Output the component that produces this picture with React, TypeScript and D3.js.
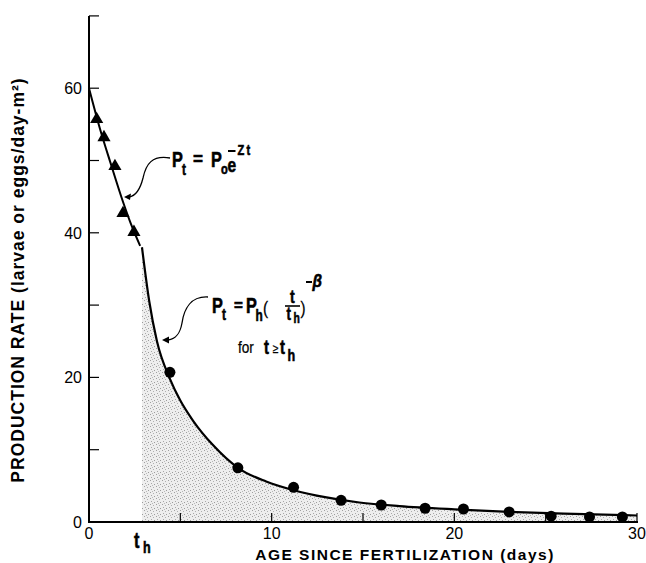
import React from 'react';
import * as d3 from 'd3';

const W = 646;
const H = 563;

// axis ticks
const xTickLabels = [0, 10, 20, 30];
const xTickMarks = [5, 10, 15, 20, 25, 30];
const yTickLabels = [0, 20, 40, 60];
const yTickMarks = [10, 20, 30, 40, 50, 60, 70];

// early-phase observations (triangles)
const triT = [0.42, 0.82, 1.42, 1.86, 2.46];
const triP = [55.7, 53.2, 49.2, 42.7, 40.1];

// later-phase observations (circles)
const dotT = [4.43, 8.15, 11.2, 13.8, 16.0, 18.4, 20.5, 23.0, 25.3, 27.4, 29.2];
const dotP = [20.7, 7.5, 4.8, 3.0, 2.35, 1.9, 1.8, 1.4, 0.8, 0.7, 0.7];

// exponential fit line
const expT = [0, 0.6, 1.2, 1.86, 2.3, 2.8];
const expP = [60, 54.4, 49.5, 44.3, 41.2, 38.2];

// power-law fit curve
const powT = [2.9, 3.3, 3.72, 4.43, 5.0, 5.7, 6.8, 8.15, 9.7, 11.2, 13.0, 14.8, 17, 20, 23, 26, 30];
const powP = [38, 30.5, 25, 19.8, 16.8, 14.0, 10.6, 7.5, 5.6, 4.4, 3.4, 2.7, 2.2, 1.75, 1.4, 1.15, 0.9];

const COND = "'Liberation Sans Narrow', 'Liberation Sans', Arial, sans-serif";
const SANS = "'Liberation Sans', Arial, Helvetica, sans-serif";

type GProps = {
  x: number;
  y: number;
  size: number;
  sx?: number;
  bold?: boolean;
  italic?: boolean;
  children: React.ReactNode;
};

function G({ x, y, size, sx = 0.74, bold = true, italic = false, children }: GProps) {
  return (
    <text
      transform={`translate(${x},${y}) scale(${sx},1)`}
      fontFamily={COND}
      fontSize={size}
      fontWeight={bold ? 'bold' : 'normal'}
      fontStyle={italic ? 'italic' : 'normal'}
      fill="#000"
      stroke="#000"
      strokeWidth={bold ? 0.6 : 0.25}
    >
      {children}
    </text>
  );
}

export default function App() {
  const x = d3.scaleLinear().domain([0, 30]).range([89, 637]);
  const y = d3.scaleLinear().domain([0, 70]).range([522, 15.9]);

  const expPts = expT.map((t, i) => [t, expP[i]] as [number, number]);
  const powPts = powT.map((t, i) => [t, powP[i]] as [number, number]);

  const line = d3
    .line<[number, number]>()
    .x((d) => x(d[0]))
    .y((d) => y(d[1]))
    .curve(d3.curveMonotoneX);
  const area = d3
    .area<[number, number]>()
    .x((d) => x(d[0]))
    .y0(y(0))
    .y1((d) => y(d[1]))
    .curve(d3.curveMonotoneX);

  const tri = d3.symbol(d3.symbolTriangle, 75)();

  return (
    <svg
      width={W}
      height={H}
      style={{ position: 'absolute', left: 0, top: 0, background: '#fff' }}
    >
      <defs>
        <pattern id="stip" width="6" height="6" patternUnits="userSpaceOnUse">
          <rect width="6" height="6" fill="#eeeeee" />
          <rect x="0" y="0" width="1" height="1" fill="#a0a0a0" />
          <rect x="3" y="1" width="1" height="1" fill="#b0b0b0" />
          <rect x="1" y="3" width="1" height="1" fill="#a8a8a8" />
          <rect x="4" y="4" width="1" height="1" fill="#9c9c9c" />
          <rect x="2" y="5" width="1" height="1" fill="#b8b8b8" />
        </pattern>
      </defs>

      {/* shaded area under the power curve */}
      <path d={area(powPts) || ''} fill="url(#stip)" />

      {/* axes */}
      <line x1={x(0)} x2={x(0)} y1={y(70)} y2={y(0) + 1} stroke="#000" strokeWidth={2} />
      <line x1={x(0) - 1} x2={x(30) + 1} y1={y(0)} y2={y(0)} stroke="#000" strokeWidth={2} />
      {yTickMarks.map((v) => (
        <line key={'yt' + v} x1={x(0)} x2={x(0) + 10} y1={y(v)} y2={y(v)} stroke="#000" strokeWidth={1.2} />
      ))}
      {xTickMarks.map((v) => (
        <line key={'xt' + v} x1={x(v)} x2={x(v)} y1={y(0)} y2={y(0) - 9} stroke="#000" strokeWidth={1.2} />
      ))}
      {yTickLabels.map((v) => (
        <text key={'yl' + v} x={x(0) - 7} y={y(v) + 6} textAnchor="end" fontFamily={SANS} fontSize={16}>
          {v}
        </text>
      ))}
      {xTickLabels.map((v) => (
        <text key={'xl' + v} x={x(v)} y={y(0) + 17} textAnchor="middle" fontFamily={SANS} fontSize={16}>
          {v}
        </text>
      ))}

      {/* axis titles */}
      <text
        x={405}
        y={560}
        textAnchor="middle"
        fontFamily={SANS}
        fontWeight="bold"
        fontSize={15.5}
        letterSpacing={1.5}
      >
        AGE SINCE FERTILIZATION (days)
      </text>
      <text
        transform="translate(24,280) rotate(-90)"
        textAnchor="middle"
        fontFamily={SANS}
        fontWeight="bold"
        fontSize={17.5}
        letterSpacing={1}
      >
        PRODUCTION RATE (larvae or eggs/day-m²)
      </text>

      {/* t_h marker */}
      <G x={134} y={548} size={22}>t</G>
      <G x={143} y={553} size={17}>h</G>

      {/* fit lines */}
      <path d={line(expPts) || ''} fill="none" stroke="#000" strokeWidth={2} />
      <path d={line(powPts) || ''} fill="none" stroke="#000" strokeWidth={2.2} />

      {/* data */}
      {triT.map((t, i) => (
        <path key={'tr' + i} d={tri || ''} transform={`translate(${x(t)},${y(triP[i])})`} fill="#000" />
      ))}
      {dotT.map((t, i) => (
        <circle key={'dc' + i} cx={x(t)} cy={y(dotP[i])} r={5.5} fill="#000" />
      ))}

      {/* annotation 1: exponential model */}
      <path d="M170,158 C152,155 146,164 143,178 C140,190 136,196 129,197" fill="none" stroke="#000" strokeWidth={1.3} />
      <path d="M124,197 L131,193.5 L130,200 Z" fill="#000" />
      <G x={172} y={167} size={22}>P</G>
      <G x={182} y={175} size={16}>t</G>
      <G x={193} y={165} size={18} sx={0.95}>=</G>
      <G x={211} y={167} size={22}>P</G>
      <G x={221} y={174} size={15}>o</G>
      <G x={227.5} y={172} size={21}>e</G>
      <line x1={228} x2={235.5} y1={151} y2={151} stroke="#000" strokeWidth={2} />
      <G x={237.5} y={155} size={15}>Z</G>
      <G x={246.5} y={155} size={15}>t</G>

      {/* annotation 2: power model */}
      <path d="M208,297 C191,296 184,309 182,323 C180,334 176,339 168,340" fill="none" stroke="#000" strokeWidth={1.3} />
      <path d="M162,340 L169,336.5 L169,343.5 Z" fill="#000" />
      <G x={212} y={313} size={22}>P</G>
      <G x={222} y={320} size={16}>t</G>
      <G x={234} y={311} size={16} sx={0.95}>=</G>
      <G x={246} y={313} size={22}>P</G>
      <G x={255.5} y={321} size={16}>h</G>
      <G x={263} y={314} size={19} sx={0.8} bold={false}>(</G>
      <G x={290} y={303} size={19}>t</G>
      <line x1={285} x2={300} y1={306} y2={306} stroke="#000" strokeWidth={1.6} />
      <G x={286.5} y={320} size={18}>t</G>
      <G x={293.5} y={323} size={14}>h</G>
      <G x={300.5} y={314} size={19} sx={0.8} bold={false}>)</G>
      <line x1={306} x2={312} y1={282} y2={282} stroke="#000" strokeWidth={2} />
      <G x={312.5} y={287} size={18} sx={0.85} italic>β</G>

      <G x={238} y={353} size={16} sx={0.85} bold={false}>for</G>
      <G x={264} y={354} size={20}>t</G>
      <G x={272.5} y={353} size={13} sx={0.8} bold={false}>≥</G>
      <G x={280} y={354} size={20}>t</G>
      <G x={287.5} y={361} size={17}>h</G>
    </svg>
  );
}
